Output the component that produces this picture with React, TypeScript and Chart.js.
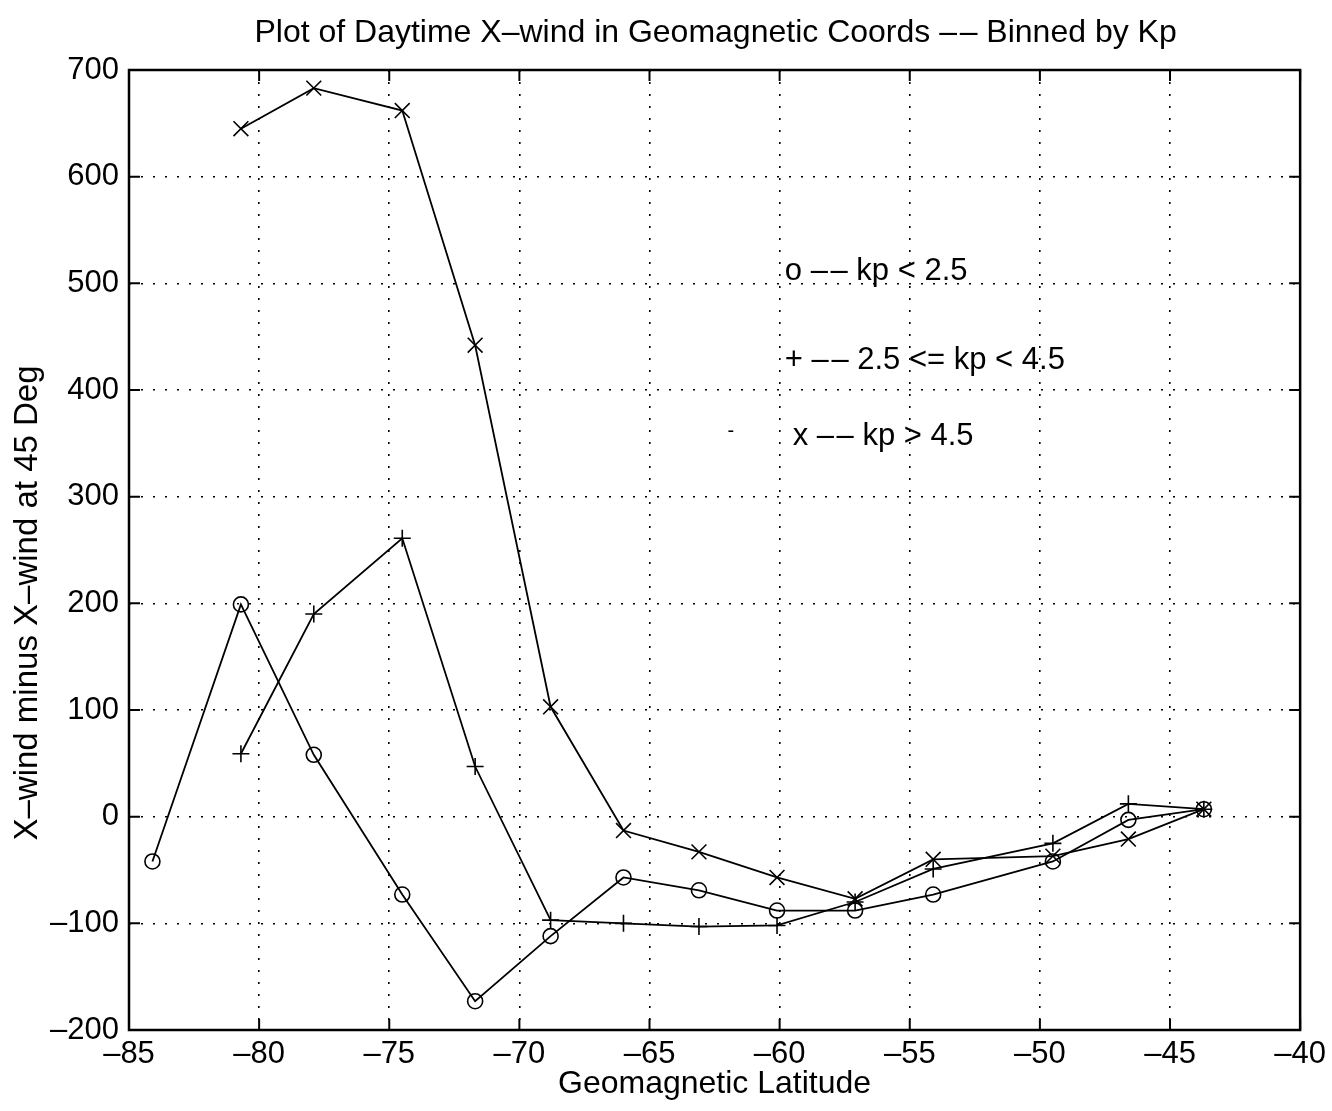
import React, { useEffect, useRef } from "react";
import { Chart, registerables } from "chart.js";

Chart.register(...registerables);

const DASHES = "\u2013\u200A\u2013";
const TITLE = `Plot of Daytime X\u2013wind in Geomagnetic Coords ${DASHES} Binned by Kp`;
const X_LABEL = "Geomagnetic Latitude";
const Y_LABEL = "X\u2013wind minus X\u2013wind at 45 Deg";

// Geomagnetic latitude bins (degrees)
const latitudes = [-84.1, -80.7, -77.9, -74.5, -71.7, -68.8, -66.0, -63.1, -60.1, -57.1, -54.1, -49.5, -46.6, -43.7];

// o -- kp < 2.5
const lowKp = [-42, 199, 58, -73, -173, -112, -57, -69, -88, -88, -73, -42, -3, 7];
// + -- 2.5 <= kp < 4.5 (starts at second bin)
const midKp = [null, 59, 190, 261, 47, -97, -100, -103, -102, -80, -49, -25, 12, 7];
// x -- kp > 4.5 (starts at second bin)
const highKp = [null, 645, 683, 662, 442, 103, -13, -33, -57, -77, -40, -37, -21, 7];

const xTicks = [-85, -80, -75, -70, -65, -60, -55, -50, -45, -40];
const yTicks = [-200, -100, 0, 100, 200, 300, 400, 500, 600, 700];

// in-plot legend annotation: text, x (data), y (data)
const noteTexts = [`o ${DASHES} kp < 2.5`, `+ ${DASHES} 2.5 <= kp < 4.5`, `x ${DASHES} kp > 4.5`, "-"];
const noteX = [-59.8, -59.8, -59.5, -62.0];
const noteY = [511, 428, 356, 361];

const FONT = "'Liberation Sans', Arial, Helvetica, sans-serif";

function toPoints(vals: (number | null)[]) {
  const pts: { x: number; y: number }[] = [];
  vals.forEach((v, i) => {
    if (v !== null) pts.push({ x: latitudes[i], y: v });
  });
  return pts;
}

const framePlugin = {
  id: "matlabFrame",
  afterDraw(chart: any) {
    const { ctx, chartArea: a, scales } = chart;
    ctx.save();
    ctx.strokeStyle = "#000";
    ctx.fillStyle = "#000";
    // inner ticks
    ctx.lineWidth = 2;
    const tl = 11;
    ctx.beginPath();
    xTicks.forEach((v) => {
      const px = scales.x.getPixelForValue(v);
      ctx.moveTo(px, a.bottom);
      ctx.lineTo(px, a.bottom - tl);
      ctx.moveTo(px, a.top);
      ctx.lineTo(px, a.top + tl);
    });
    yTicks.forEach((v) => {
      const py = scales.y.getPixelForValue(v);
      ctx.moveTo(a.left, py);
      ctx.lineTo(a.left + tl, py);
      ctx.moveTo(a.right, py);
      ctx.lineTo(a.right - tl, py);
    });
    ctx.stroke();
    // frame
    ctx.lineWidth = 2.5;
    ctx.strokeRect(a.left, a.top, a.right - a.left, a.bottom - a.top);

    // title
    ctx.font = `32px ${FONT}`;
    ctx.textAlign = "center";
    ctx.textBaseline = "middle";
    ctx.fillText(TITLE, (a.left + a.right) / 2 + 1, 33);
    // x label
    ctx.fillText(X_LABEL, (a.left + a.right) / 2, 1084);
    // y label
    ctx.save();
    ctx.font = `33px ${FONT}`;
    ctx.translate(28, 603);
    ctx.rotate(-Math.PI / 2);
    ctx.fillText(Y_LABEL, 0, 0);
    ctx.restore();

    // annotation
    ctx.textAlign = "left";
    noteTexts.forEach((t, i) => {
      ctx.font = i === 3 ? `20px ${FONT}` : `31px ${FONT}`;
      ctx.fillText(t, scales.x.getPixelForValue(noteX[i]), scales.y.getPixelForValue(noteY[i]));
    });
    ctx.restore();
  },
};

export default function App() {
  const ref = useRef<HTMLCanvasElement | null>(null);

  useEffect(() => {
    document.body.style.margin = "0";
    const canvas = ref.current!;
    const common = {
      borderColor: "#000",
      backgroundColor: "rgba(0,0,0,0)",
      pointBorderColor: "#000",
      pointBackgroundColor: "rgba(0,0,0,0)",
      borderWidth: 1.8,
      pointBorderWidth: 1.6,
      tension: 0,
      fill: false,
    };
    const chart = new Chart(canvas, {
      type: "line",
      data: {
        datasets: [
          { ...common, label: "kp < 2.5", data: toPoints(lowKp), pointStyle: "circle", pointRadius: 7.5 },
          { ...common, label: "2.5 <= kp < 4.5", data: toPoints(midKp), pointStyle: "cross", pointRadius: 8.5 },
          { ...common, label: "kp > 4.5", data: toPoints(highKp), pointStyle: "crossRot", pointRadius: 10.5 },
        ],
      },
      plugins: [framePlugin],
      options: {
        responsive: false,
        animation: false,
        devicePixelRatio: 1,
        layout: { padding: { top: 70, right: 22, left: 0, bottom: 0 } },
        plugins: { legend: { display: false }, title: { display: false }, tooltip: { enabled: false } },
        scales: {
          x: {
            type: "linear",
            min: -85,
            max: -40,
            afterFit: (s: any) => {
              s.height = 81;
            },
            afterBuildTicks: (s: any) => {
              s.ticks = xTicks.map((v) => ({ value: v }));
            },
            ticks: {
              color: "#000",
              font: { family: FONT, size: 31 },
              padding: 6,
              maxRotation: 0,
              callback: (v: any) => String(v).replace("-", "\u2013"),
            },
            grid: { color: "#000", lineWidth: 1.6, drawTicks: false },
            border: { display: false, dash: [2, 10] },
          },
          y: {
            type: "linear",
            min: -200,
            max: 700,
            afterFit: (s: any) => {
              s.width = 129;
            },
            afterBuildTicks: (s: any) => {
              s.ticks = yTicks.map((v) => ({ value: v }));
            },
            ticks: {
              color: "#000",
              font: { family: FONT, size: 31 },
              padding: 10,
              callback: (v: any) => String(v).replace("-", "\u2013"),
            },
            grid: { color: "#000", lineWidth: 1.6, drawTicks: false },
            border: { display: false, dash: [2, 10] },
          },
        },
      },
    } as any);
    return () => chart.destroy();
  }, []);

  return <canvas ref={ref} width={1332} height={1111} style={{ display: "block" }} />;
}
